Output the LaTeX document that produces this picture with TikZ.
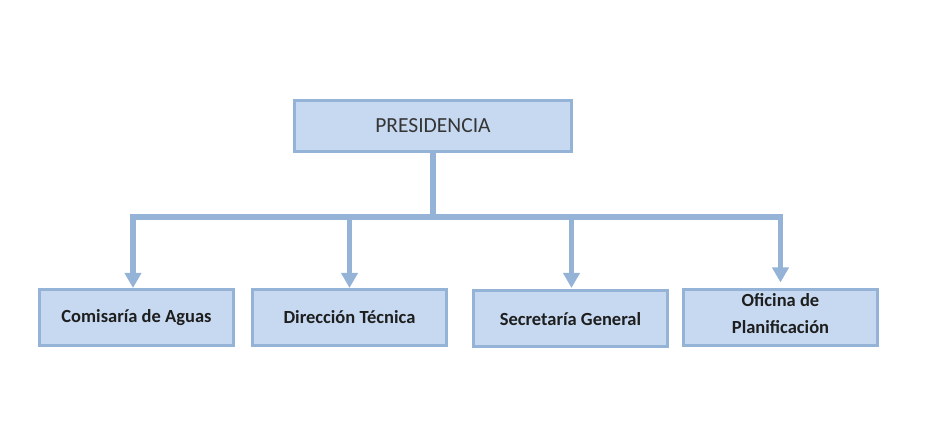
\documentclass[tikz,border=0pt]{standalone}
\usepackage{fontspec}
\setmainfont{Carlito}
\usetikzlibrary{arrows.meta}
\definecolor{boxfill}{HTML}{C6D9F1}
\definecolor{boxline}{HTML}{95B3D7}
\definecolor{txt}{HTML}{1E1E1E}
\begin{document}
\begin{tikzpicture}[x=1pt,y=-1pt,
  box/.style={draw=boxline, fill=boxfill, line width=3pt, inner sep=0pt,
    minimum width=194pt, minimum height=56pt, align=center, text=txt,
    font=\fontsize{18.5}{27}\selectfont\bfseries},
  topbox/.style={box, minimum width=277pt, minimum height=51pt,
    font=\fontsize{21.5}{24}\selectfont, text={txt!90!white}},
  conn/.style={draw=boxline, line width=5.5pt},
  arr/.style={conn, -{Triangle[width=16pt,length=15pt]}}]
\useasboundingbox (0,0) rectangle (930,422);
\node[topbox] (pres) at (433,126) {PRESIDENCIA};
\node[box] (b1) at (136.5,317.5) {Comisaría de Aguas};
\node[box] (b2) at (349.5,317.5) {Dirección Técnica};
\node[box] (b3) at (570.5,319) {Secretaría General};
\node[box] (b4) at (780.5,318) {\raisebox{3pt}[\height][\depth]{\begin{tabular}{@{}c@{}}Oficina de\\Planificación\end{tabular}}};
\coordinate (j) at (433,217);
\draw[conn] (pres.south) -- (j);
\draw[arr] (j) -| ([xshift=-3.5pt]b1.north);
\draw[arr] (j) -| ([yshift=6pt]b4.north);
\draw[arr] (b2.north |- j) -- (b2.north);
\draw[arr] ([xshift=1pt]b3.north |- j) -- ([xshift=1pt,yshift=1.5pt]b3.north);
\end{tikzpicture}
\end{document}
